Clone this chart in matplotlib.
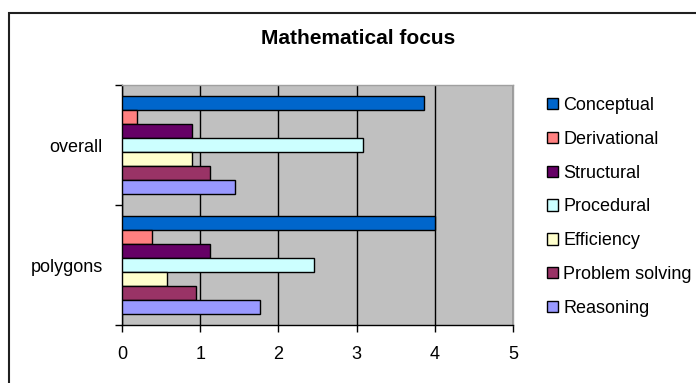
import numpy as np
import matplotlib.pyplot as plt
from matplotlib.patches import Rectangle, Patch

plt.rcParams['font.family'] = ['Liberation Sans', 'DejaVu Sans']

categories = ['polygons', 'overall']
series = ['Conceptual', 'Derivational', 'Structural', 'Procedural',
          'Efficiency', 'Problem solving', 'Reasoning']
# values per series: [polygons, overall]
conceptual = [4.0, 3.86]
derivational = [0.39, 0.19]
structural = [1.13, 0.90]
procedural = [2.46, 3.08]
efficiency = [0.57, 0.90]
problem_solving = [0.95, 1.13]
reasoning = [1.76, 1.44]
values = [conceptual, derivational, structural, procedural,
          efficiency, problem_solving, reasoning]
colors = ['#0066CC', '#FF8080', '#660066', '#CCFFFF',
          '#FFFFCC', '#993366', '#9999FF']

fig = plt.figure(figsize=(6.96, 3.83), dpi=100)
ax = fig.add_axes([122 / 696, 1 - 325 / 383, 391 / 696, 240 / 383])
ax.set_facecolor('#C0C0C0')

# chart area frame
fig.patches.append(Rectangle((9 / 696, -0.1), 1.0, 1.1 - 13 / 383,
                             transform=fig.transFigure, fill=False,
                             edgecolor='#202020', linewidth=1.5))

h = 0.116
y = np.arange(len(categories))
for i, (name, vals, c) in enumerate(zip(series, values, colors)):
    ax.barh(y + (3 - i) * h, vals, height=h, color=c, edgecolor='black',
            linewidth=1.0, label=name, zorder=3)

ax.set_xlim(0, 5)
ax.set_ylim(-0.5, 1.5)
ax.set_xticks(range(6))
ax.set_yticks([-0.5, 0.5, 1.5])
ax.set_yticklabels([])
ax.set_yticks(y, minor=True)
ax.set_yticklabels(categories, minor=True)
ax.tick_params(axis='y', which='minor', length=0, pad=14, labelsize=13)
ax.tick_params(axis='y', which='major', length=5, direction='out', width=1)
ax.tick_params(axis='x', length=5, direction='out', width=1, pad=10, labelsize=13)
ax.grid(axis='x', color='black', linewidth=1.0, zorder=1)
ax.set_axisbelow(True)
for s in ['left', 'bottom']:
    ax.spines[s].set_color('black')
    ax.spines[s].set_linewidth(1.0)
for s in ['top', 'right']:
    ax.spines[s].set_color('#a0a0a0')
    ax.spines[s].set_linewidth(1.0)

fig.text(358 / 696, 1 - 39 / 383, 'Mathematical focus', ha='center', va='center',
         fontsize=15, fontweight='bold')

handles = [Patch(facecolor=c, edgecolor='black', linewidth=1.0) for c in colors]
fig.legend(handles, series, loc='upper left', bbox_to_anchor=(538 / 696, 1 - 88 / 383),
           frameon=False, fontsize=13, handlelength=0.6, handleheight=0.6,
           handletextpad=0.3, labelspacing=0.93, borderpad=0)

fig.savefig('out.png', dpi=100)
